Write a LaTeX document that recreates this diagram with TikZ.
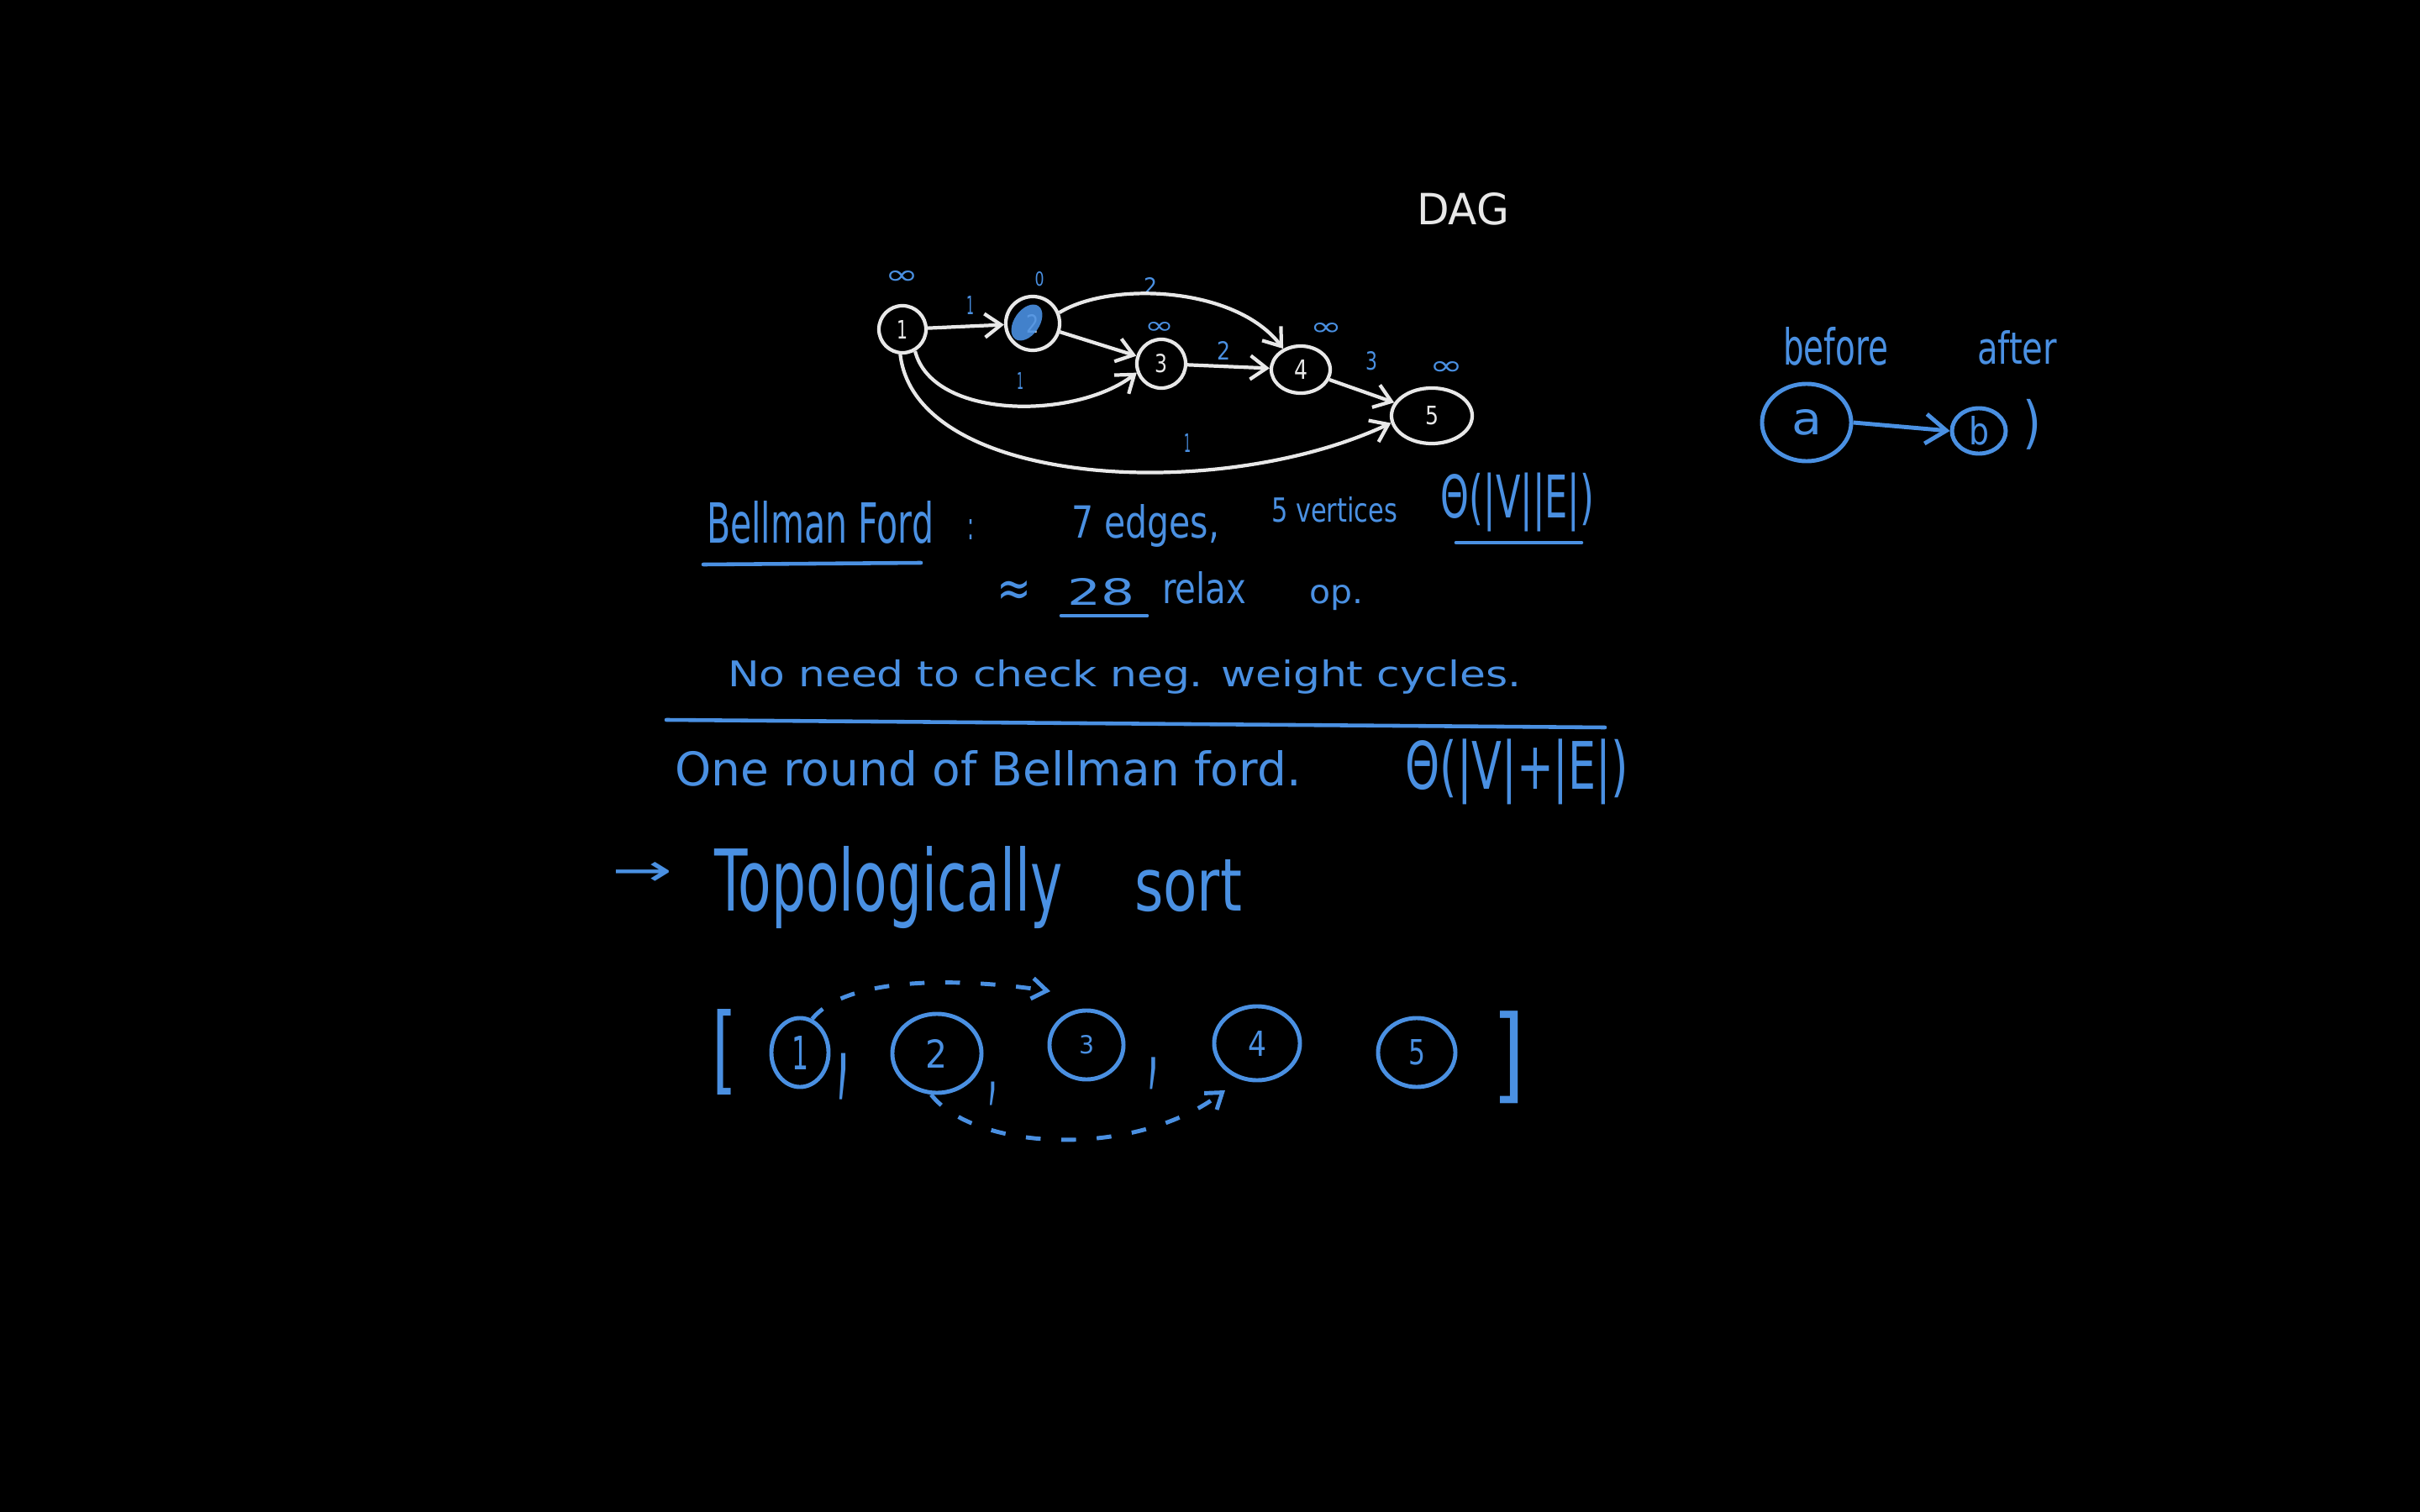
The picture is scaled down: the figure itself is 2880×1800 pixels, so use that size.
\documentclass[tikz,border=0pt]{standalone}
\usepackage{fontspec}
\setmainfont{DejaVu Sans}
\usepackage{graphicx}
\usetikzlibrary{arrows.meta,shapes.geometric}
\definecolor{pen}{RGB}{74,144,226}
\definecolor{chalk}{RGB}{232,232,232}
\newcommand\rb[3]{\resizebox{#1cm}{#2cm}{#3}}
\newcommand\rbt[3]{\resizebox*{#1cm}{#2cm}{#3}}
\begin{document}
\begin{tikzpicture}[x=0.01cm,y=-0.01cm,
  lbl/.style={inner sep=0pt, outer sep=0pt},
  btxt/.style={lbl, text=pen, anchor=base west},
  bc/.style={lbl, text=pen},
  wtxt/.style={lbl, text=chalk},
  gnode/.style={ellipse, draw=chalk, line width=1.2pt, inner sep=0pt, text=chalk},
  bnode/.style={ellipse, draw=pen, line width=1.4pt, inner sep=0pt, text=pen},
  gedge/.style={draw=chalk, line width=1.2pt, -{Straight Barb[length=5.5pt,width=8pt]}},
  bedge/.style={draw=pen, line width=1.4pt, -{Straight Barb[length=7pt,width=10pt]}},
  dedge/.style={draw=pen, line width=1.4pt, dash pattern=on 5pt off 7pt, -{Straight Barb[length=5pt,width=7pt]}},
  uline/.style={draw=pen, line width=1.3pt, line cap=round},
]
\useasboundingbox (0,0) rectangle (2880,1800);
\fill[black] (0,0) rectangle (2880,1800);

% ---------- DAG ----------
\node[wtxt, anchor=base west] (dag) at (1686,268) {\rb{1.10}{0.38}{DAG}};

\node[gnode, minimum width=0.56cm, minimum height=0.56cm] (n1) at (1074,392) {\rb{0.13}{0.22}{1}};
\node[gnode, minimum width=0.64cm, minimum height=0.64cm] (n2) at (1229,385) {\rb{0.15}{0.22}{2}};
\node[gnode, minimum width=0.58cm, minimum height=0.58cm] (n3) at (1382,433) {\rb{0.15}{0.22}{3}};
\node[gnode, minimum width=0.70cm, minimum height=0.56cm] (n4) at (1548,440) {\rb{0.16}{0.23}{4}};
\node[gnode, minimum width=0.96cm, minimum height=0.66cm] (n5) at (1704,495) {\rb{0.16}{0.22}{5}};

% hatch on node 2
\begin{scope}
\clip (1229,385) circle (0.30cm);
\fill[pen, opacity=0.9, rotate around={55:(1222,384)}] (1222,384) ellipse (0.24cm and 0.15cm);
\end{scope}

% distance labels
\node[bc] (d1) at (1074,330) {\rb{0.40}{0.16}{∞}};
\node[bc] (d2) at (1237,332) {\rb{0.11}{0.17}{0}};
\node[bc] (d3) at (1380,390) {\rb{0.35}{0.14}{∞}};
\node[bc] (d4) at (1579,392) {\rb{0.38}{0.15}{∞}};
\node[bc] (d5) at (1722,438) {\rb{0.40}{0.16}{∞}};

% weights
\node[bc] (w12) at (1155,363) {\rb{0.09}{0.22}{1}};
\node[bc] (w24) at (1369,340) {\rb{0.16}{0.20}{2}};
\node[bc] (w34) at (1456,417) {\rb{0.16}{0.22}{2}};
\node[bc] (w45) at (1632,430) {\rb{0.14}{0.22}{3}};
\node[bc] (w13) at (1214,453) {\rb{0.08}{0.20}{1}};
\node[bc] (w15) at (1413,527) {\rb{0.08}{0.22}{1}};

% edges
\draw[gedge] (n1) -- (n2);
\draw[gedge] (n2) -- (n3);
\draw[gedge] (n3) -- (n4);
\draw[gedge] (n4) -- (n5);
\draw[gedge] (n2.22) .. controls (1320,335) and (1470,340) .. (n4.130);
\draw[gedge] (n1.-60) .. controls (1110,500) and (1280,500) .. (n3.200);
\draw[gedge] (n1.-95) .. controls (1090,580) and (1450,600) .. (n5.190);

% ---------- before / after ----------
\node[btxt] (before) at (2122,435) {\rb{1.25}{0.45}{before}};
\node[btxt] (after) at (2353,433) {\rb{0.95}{0.40}{after}};
\node[bnode, minimum width=1.06cm, minimum height=0.92cm] (na) at (2150,503) {\rb{0.36}{0.30}{a}};
\node[bnode, minimum width=0.64cm, minimum height=0.54cm] (nb) at (2355,513) {\rb{0.24}{0.34}{b}};
\draw[bedge] (na.east) -- (nb.west);
\node[bc] (paren) at (2418,505) {\rbt{0.22}{0.60}{)}};

% ---------- Bellman Ford block ----------
\node[btxt] (bf) at (841,646) {\rb{2.70}{0.50}{Bellman Ford}};
\node[bc] (colon) at (1155,630) {\rb{0.08}{0.24}{:}};
\node[btxt] (edges) at (1275,640) {\rb{1.76}{0.40}{7 edges,}};
\node[btxt] (verts) at (1513,621) {\rb{1.50}{0.30}{5 vertices}};
\node[bc] (theta1) at (1806,598) {\rbt{1.82}{0.70}{Θ(|V||E|)}};
\draw[uline] (837,672) -- (1096,670);
\draw[uline] (1733,646) -- (1882,646);

\node[bc] (approx) at (1207,706) {\rb{0.41}{0.30}{≈}};
\node[btxt] (n28) at (1270,720) {\rb{0.80}{0.32}{28}};
\draw[uline] (1263,733) -- (1365,733);
\node[btxt] (relax) at (1383,718) {\rb{1.00}{0.38}{relax}};
\node[btxt] (op) at (1558,718) {\rb{0.64}{0.22}{op.}};

\node[btxt] (noneed) at (866,817) {\rb{9.44}{0.32}{No need to check neg. weight cycles.}};

\coordinate (hl1) at (793,857);
\coordinate (hl2) at (1910,866);
\draw[uline] (hl1) -- (hl2);

\node[btxt] (oneround) at (803,935) {\rb{7.45}{0.42}{One round of Bellman ford.}};
\node[bc] (theta2) at (1805,919) {\rbt{2.65}{0.78}{Θ(|V|+|E|)}};

% ---------- Topological sort ----------
\node[bc] (bullet) at (765,1040) {\rb{0.72}{0.28}{→}};
\node[btxt] (topo) at (850,1084) {\rb{4.14}{0.77}{Topologically}};
\node[btxt] (sort) at (1350,1084) {\rb{1.28}{0.61}{sort}};

\node[bc] (lb) at (863,1253) {\rbt{0.30}{1.02}{[}};
\node[bnode, minimum width=0.68cm, minimum height=0.82cm] (c1) at (952,1253) {\rb{0.20}{0.40}{1}};
\node[bc] (cm1) at (1003,1282) {\rbt{0.16}{0.55}{,}};
\node[bnode, minimum width=1.06cm, minimum height=0.94cm] (c2) at (1115,1254) {\rb{0.26}{0.34}{2}};
\node[bc] (cm2) at (1181,1302) {\rbt{0.12}{0.28}{,}};
\node[bnode, minimum width=0.88cm, minimum height=0.82cm] (c3) at (1293,1244) {\rb{0.18}{0.22}{3}};
\node[bc] (cm3) at (1372,1278) {\rbt{0.14}{0.38}{,}};
\node[bnode, minimum width=1.02cm, minimum height=0.88cm] (c4) at (1496,1242) {\rb{0.22}{0.30}{4}};
\node[bnode, minimum width=0.92cm, minimum height=0.82cm] (c5) at (1686,1253) {\rb{0.20}{0.30}{5}};
\node[bc] (rb) at (1795,1259) {\rbt{0.40}{1.10}{]}};

\coordinate (t1) at (1250,1180);
\coordinate (t2) at (1458,1298);
\draw[dedge] (c1.70) .. controls (1010,1160) and (1150,1165) .. (t1);
\draw[dedge] (c2.262) .. controls (1160,1370) and (1350,1380) .. (t2);
\end{tikzpicture}
\end{document}
